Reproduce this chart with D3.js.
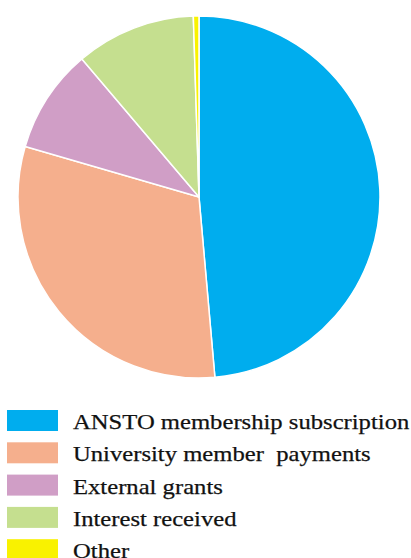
<!DOCTYPE html>
<html>
<head>
<meta charset="utf-8">
<script src="https://cdn.jsdelivr.net/npm/d3@7"></script>
<style>
  html, body { margin: 0; padding: 0; background: #fff; }
  svg { display: block; }
</style>
</head>
<body>
<svg id="chart" width="411" height="558"></svg>
<script>
// Income sources (percent of total)
const categories = [
  "ANSTO membership subscription",
  "University member  payments",
  "External grants",
  "Interest received",
  "Other"
];
const values = [48.6, 30.9, 9.3, 10.7, 0.5];
const colors = ["#00adee", "#f5af8d", "#d09ec6", "#c5df8f", "#f9f200"];

const svg = d3.select("#chart");
const cx = 199, cy = 197, radius = 181;

const pie = d3.pie().sort(null).value(d => d.value);
const arc = d3.arc().innerRadius(0).outerRadius(radius);
const data = categories.map((c, i) => ({ name: c, value: values[i], color: colors[i] }));

svg.append("g")
  .attr("transform", `translate(${cx},${cy})`)
  .selectAll("path")
  .data(pie(data))
  .join("path")
  .attr("d", arc)
  .attr("fill", d => d.data.color)
  .attr("stroke", "#fff")
  .attr("stroke-width", 1.5)
  .attr("stroke-linejoin", "round");

// Legend
const legend = svg.append("g").attr("transform", "translate(7,410)");
const rowH = 32.3;
const rows = legend.selectAll("g")
  .data(data)
  .join("g")
  .attr("transform", (d, i) => `translate(0,${i * rowH})`);
rows.append("rect")
  .attr("width", 51).attr("height", 21)
  .attr("fill", d => d.color);
const labels = rows.append("text")
  .attr("x", 66).attr("y", 19)
  .attr("font-family", "'Liberation Serif', 'DejaVu Serif', serif")
  .attr("font-size", 22)
  .attr("fill", "#111")
  .attr("stroke", "#111")
  .attr("stroke-width", 0.25)
  .attr("xml:space", "preserve")
  .style("white-space", "pre")
  .text(d => d.name);

// Widen the serif face a little so it reads like a broad book face
const stretch = 1.12;
labels.each(function () {
  const w = this.getComputedTextLength();
  d3.select(this)
    .attr("textLength", w * stretch)
    .attr("lengthAdjust", "spacingAndGlyphs");
});
</script>
</body>
</html>
